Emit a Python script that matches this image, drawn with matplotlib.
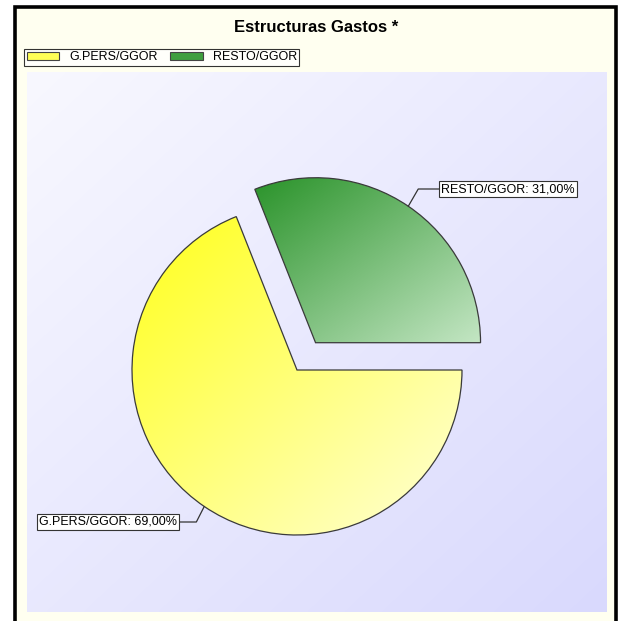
import numpy as np
import matplotlib
matplotlib.use("Agg")
import matplotlib.pyplot as plt
from matplotlib.patches import Rectangle, Patch
from matplotlib.colors import to_rgb

plt.rcParams['font.family'] = ['Liberation Sans', 'DejaVu Sans']

# ---- data ----
title = "Estructuras Gastos *"
categories = ["G.PERS/GGOR", "RESTO/GGOR"]
values = [69.00, 31.00]
labels = ["G.PERS/GGOR: 69,00%", "RESTO/GGOR: 31,00%"]
explode_frac = [0.0, 0.2]
grad_start = ["#ffff1a", "#2a932a"]
grad_end = ["#ffffd8", "#c4e6c4"]
mid_colors = ["#ffff66", "#5cb35c"]

W, H = 620, 621
fig = plt.figure(figsize=(W / 100, H / 100), dpi=100)
fig.patch.set_facecolor("white")

# outer frame
frame = Rectangle((14.5 / W, -0.05), (615.5 - 14.5) / W, 1 - 7 / H + 0.05,
                  transform=fig.transFigure, facecolor="#fffff0",
                  edgecolor="black", linewidth=2.6, zorder=-5)
fig.patches.append(frame)

# plot area in pixel-like data coordinates
x0, x1, yt, yb = 27, 607, 72, 612
ax = fig.add_axes([x0 / W, (H - yb) / H, (x1 - x0) / W, (yb - yt) / H])
ax.set_zorder(1)
ax.set_xlim(x0, x1)
ax.set_ylim(H - yb, H - yt)


def grad_img(c0, c1, n=256):
    u = np.linspace(0, 1, n)
    U, V = np.meshgrid(u, u)
    t = (U + (1 - V)) / 2.0
    a, b = np.array(to_rgb(c0)), np.array(to_rgb(c1))
    return a[None, None, :] * (1 - t[..., None]) + b[None, None, :] * t[..., None]


# background gradient
ax.imshow(grad_img("#f8f8ff", "#d9d9fd"), extent=[x0, x1, H - yb, H - yt],
          origin="lower", aspect="auto", interpolation="bilinear", zorder=0)

center = (297, H - 370)
radius = 165
wedges, _ = ax.pie(values, colors=mid_colors, startangle=0, counterclock=False,
                   explode=[e * radius for e in explode_frac], center=center,
                   radius=radius, frame=True,
                   wedgeprops=dict(edgecolor="#3a3a3a", linewidth=0.9))
ax.set_aspect("auto")
ax.set_axis_off()

for w, c0, c1 in zip(wedges, grad_start, grad_end):
    ext = w.get_path().get_extents()
    im = ax.imshow(grad_img(c0, c1), extent=[ext.x0, ext.x1, ext.y0, ext.y1],
                   origin="lower", aspect="auto", interpolation="bilinear", zorder=2)
    im.set_clip_path(w)
    w.set_facecolor("none")
    w.set_zorder(3)
ax.set_xlim(x0, x1)
ax.set_ylim(H - yb, H - yt)

# labels with leader lines
text_pos = [(108, H - 522), (508, H - 189)]
angleB = [63, 60]
for w, lab, tp, ab in zip(wedges, labels, text_pos, angleB):
    mid = np.deg2rad((w.theta1 + w.theta2) / 2)
    cx, cy = w.center
    pt = (cx + w.r * np.cos(mid), cy + w.r * np.sin(mid))
    ax.annotate(lab, xy=pt, xytext=tp, ha="center", va="center", fontsize=9,
                bbox=dict(boxstyle="square,pad=0.15", fc="white", ec="#333333", lw=0.8),
                arrowprops=dict(arrowstyle="-", color="#333333", lw=0.9,
                                shrinkA=0, shrinkB=0,
                                connectionstyle=f"angle,angleA=0,angleB={ab},rad=0"),
                zorder=5)

# title
fig.text(316.5 / W, 1 - 28 / H, title, ha="center", va="center",
         fontsize=12, fontweight="bold")

# legend
handles = [Patch(facecolor=c, edgecolor="#444444", linewidth=0.8) for c in ["#ffff55", "#3f9f3f"]]
leg = fig.legend(handles, categories, loc="upper left",
                 bbox_to_anchor=(24 / W, 1 - 49 / H), ncol=2, fontsize=9,
                 frameon=True, fancybox=False, borderaxespad=0, borderpad=0.2,
                 handlelength=2.6, handleheight=0.6, handletextpad=0.8,
                 columnspacing=1.0)
leg.get_frame().set_edgecolor("black")
leg.get_frame().set_linewidth(0.8)
leg.get_frame().set_facecolor("white")

fig.savefig("out.png", dpi=100, facecolor="white")
